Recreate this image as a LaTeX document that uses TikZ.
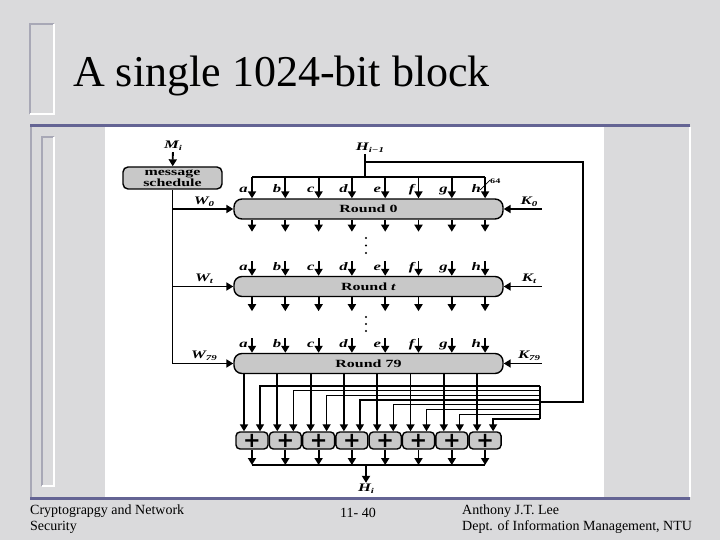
\documentclass[tikz,border=0pt]{standalone}
\usepackage{fontspec}
\setmainfont{Liberation Serif}
\newfontfamily\diagfont{Liberation Serif}[FakeStretch=1.45]
\newfontfamily\plusfont{DejaVu Sans}
\usepackage{xcolor}
\usetikzlibrary{arrows.meta,positioning,calc}
\definecolor{marble}{RGB}{218,218,220}
\definecolor{slate}{RGB}{100,100,148}
\definecolor{framegray}{RGB}{168,168,182}
\definecolor{boxgray}{RGB}{200,200,200}
\newcommand{\sublab}[2]{{\bfseries\itshape #1\raisebox{-0.45ex}{\fontsize{7.5}{8}\selectfont #2}}}

\begin{document}
\begin{tikzpicture}[x=1pt, y=-1pt,
  roundbox/.style={draw, line width=1.4pt, fill=boxgray, rounded corners=8pt,
                   minimum width=269pt, minimum height=20pt, inner sep=0pt,
                   font=\diagfont\bfseries\fontsize{11}{12}\selectfont},
  msgbox/.style={draw, line width=1.4pt, fill=boxgray, rounded corners=5pt,
                 minimum width=99pt, minimum height=22pt, inner sep=0pt, align=center,
                 font=\diagfont\bfseries\fontsize{11}{10.5}\selectfont},
  adder/.style={draw, line width=1.4pt, fill=boxgray, rounded corners=4pt,
                minimum width=32pt, minimum height=17pt, inner sep=0pt,
                font=\plusfont\bfseries\fontsize{21}{21}\selectfont},
  lbl/.style={inner sep=1pt, font=\diagfont\bfseries\itshape\fontsize{11.5}{12}\selectfont},
  foot/.style={inner sep=0pt, align=left, font=\fontsize{14}{16}\selectfont},
  wire/.style={line width=1.8pt},
  bus/.style={line width=1.3pt},
  >={Triangle[length=7pt,width=8pt]}
]
  \useasboundingbox (0,0) rectangle (720,540);
  % slide background and frame
  \fill[marble] (0,0) rectangle (720,540);
  \fill[white] (105,127) rectangle (604,497);
  \draw[framegray, line width=1.5pt] (30,114) |- (54,24);
  \draw[white, line width=1.5pt] (30,114) -| (54,24);
  \draw[framegray, line width=1.5pt] (42,486) |- (54,137);
  \draw[white, line width=1.5pt] (42,486) -| (54,137);
  \draw[framegray, line width=2pt] (31,127) -- (31,497);
  \draw[white, line width=1.5pt] (690,127) -- (690,497);
  \draw[slate, line width=3pt] (30,125.5) -- (690,125.5);
  \draw[slate, line width=3pt] (30,498.5) -- (690,498.5);

  \node[anchor=base west, inner sep=0pt, font=\fontsize{44}{50}\selectfont] (title) at (73,87) {A single 1024-bit block};
  \node[foot, anchor=north west] (course) at (30,505) {Cryptograpgy and Network\\Security};
  \node[foot, anchor=north] (page) at (358,508) {11- 40};
  \node[foot, anchor=north west] (author) at (462,505) {Anthony J.T. Lee\\Dept. of Information Management, NTU};

  % message schedule
  \node[lbl] (mi) at (173,146) {\sublab{M}{i}};
  \node[msgbox] (sched) at (172.5,178) {message\\schedule};
  \draw[wire,->] (mi) -- (sched);

  % rounds
  \node[roundbox] (r0) at (368.5,209) {Round 0};
  \node[roundbox] (rt) at (368.5,286.5) {Round \textit{t}};
  \node[roundbox] (r79) at (368.5,363.5) {Round 79};
  \draw[wire] (sched) -- (sched.south |- r79.west);
  \foreach \r/\s/\wy in {r0/0/202, rt/t/279, r79/79/356}{
    \node[lbl] (w\s) at (204,\wy) {\sublab{W}{\s}};
    \node[lbl] (k\s) at (529,\wy) {\sublab{K}{\s}};
    \draw[wire,->] (\r.west -| sched.south) -- (\r.west);
    \draw[wire,<-] (\r.east) -- (\r.east -| 542,0) coordinate (kin\s);
  }
  \foreach \dy in {238,245.5,253,317,324,331}
    \fill (366,\dy) circle (1.2pt);

  % chaining variable in and feedback
  \node[lbl] (hprev) at (370,148) {\sublab{H}{i−1}};
  \coordinate (hbus) at (365,177);
  \coordinate (tap) at (365,162);
  \coordinate (join) at (540,402);
  \coordinate (sum) at (366,465);
  \draw[wire] (hprev.south -| hbus) -- (hbus);
  \draw[wire] (tap) -- (583,162) |- (join);
  \draw[bus] (540,386) -- (540,419);

  \foreach \n [count=\k from 0] in {a,b,c,d,e,f,g,h}{
    \pgfmathsetmacro{\cx}{252+33.3*\k}
    \pgfmathsetmacro{\fy}{386+4.7*\k}
    % round 0
    \coordinate (b\k) at (\cx,177);
    \draw[wire,->] (b\k) -- (b\k |- r0.north);
    \node[lbl, anchor=base east] (la\k) at (\cx-3,193) {\n};
    \draw[wire,->] (r0.south -| \cx,0) -- ++(0,12);
    % round t
    \coordinate (ti\k) at (\cx,261);
    \draw[wire,->] (ti\k) -- (ti\k |- rt.north);
    \node[lbl, anchor=base east] (lt\k) at (\cx-3,270) {\n};
    \draw[wire,->] (rt.south -| \cx,0) -- ++(0,14);
    % round 79
    \coordinate (tl\k) at (\cx,338);
    \draw[wire,->] (tl\k) -- (tl\k |- r79.north);
    \node[lbl, anchor=base east] (ll\k) at (\cx-3,347) {\n};
    % final additions
    \node[adder] (s\k) at (\cx,440.5) {+};
    \coordinate (in\k) at ($(s\k.north)+(-8,0)$);
    \coordinate (fb\k) at ($(s\k.north)+(8,0)$);
    \draw[wire,->] (in\k |- r79.south) -- (in\k);
    \draw[bus,->] (540,\fy) -| (fb\k);
    \draw[wire,->] (s\k) -- (s\k.south |- sum);
  }
  \draw[wire] (b0) -- (b7);
  \draw[line width=0.7pt] (480,190) -- (490,180);
  \node[anchor=west, inner sep=0pt, font=\diagfont\bfseries\fontsize{7}{7}\selectfont] (width) at (490,181) {64};

  \draw[wire] (s0.south |- sum) -- (s7.south |- sum);
  \node[lbl] (hi) at (366,489) {\sublab{H}{i}};
  \draw[wire,->] (sum) -- (hi);
\end{tikzpicture}
\end{document}
